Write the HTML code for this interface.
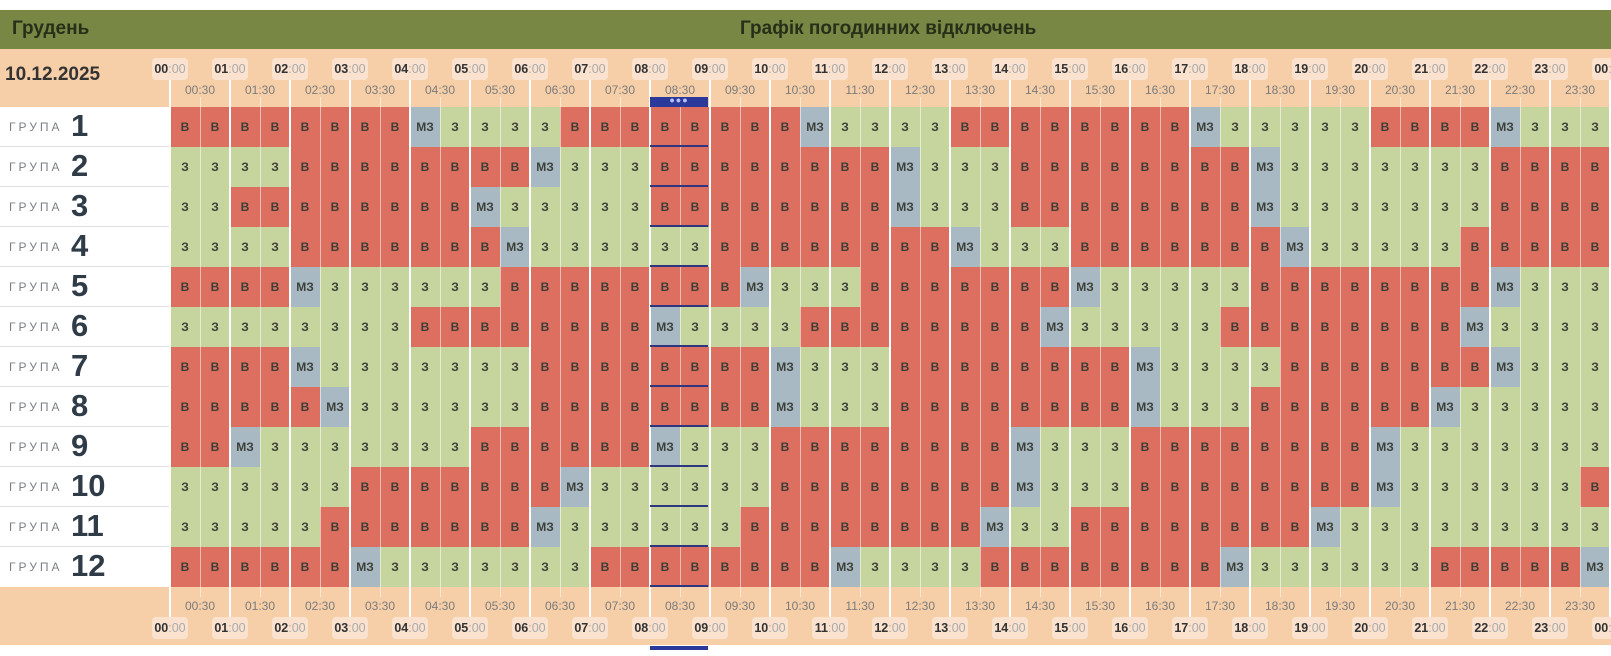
<!DOCTYPE html>
<html><head><meta charset="utf-8"><style>
*{margin:0;padding:0;box-sizing:border-box}
body{width:1611px;height:656px;background:#fff;position:relative;overflow:hidden;font-family:"Liberation Sans","DejaVu Sans",sans-serif}
.g{position:absolute;left:0;top:10px;width:1611px;height:39px;background:#788743}
.g span{position:absolute;top:8px;font-size:19px;font-weight:bold;color:#263019}
.ph{position:absolute;left:0;top:49px;width:1611px;height:58px;background:#f6cfa9}
.pf{position:absolute;left:0;top:587px;width:1611px;height:58px;background:#f6cfa9}
.date{position:absolute;left:5px;top:64px;font-size:19px;font-weight:bold;color:#333}
.row{position:absolute;left:170px;height:40px;display:flex}
.row a,.row u,.row s{display:block;width:30px;height:40px;line-height:40px;text-align:center;font-size:12px;font-weight:bold;color:#3b3f38;text-decoration:none}
.row a{background:#dc6f5f}.row u{background:#c6d59e}.row s{background:#a9b9c3}
.lab{position:absolute;left:0;width:170px;height:40px;border-bottom:1px solid #dde0e3;background:#fff}
.lab span{position:absolute;left:9px;top:13px;font-size:12px;letter-spacing:3px;color:#7a7f85}
.lab b{position:absolute;left:71px;top:1px;font-size:31px;color:#2f3c48}
.vl{position:absolute;left:169px;width:1442px;background:repeating-linear-gradient(90deg,#fff 0 2px,transparent 2px 60px)}
.hl{position:absolute;left:170px;width:1441px;background:repeating-linear-gradient(90deg,rgba(255,255,255,.55) 0 1px,transparent 1px 30px)}
.hr{position:absolute;width:36px;height:22px;margin-left:-18px;background:#fae2cf;border-radius:4px;font-size:12.5px;line-height:22px;text-align:center;color:#aaa;white-space:nowrap}
.hr b{color:#333}
.hf{position:absolute;width:50px;margin-left:-25px;text-align:center;font-size:12px;color:#7b7b7b}
.nv{position:absolute;left:650px;width:58px;height:2px;background:#2e3680}
</style></head><body>
<div class="g"><span style="left:12px">Грудень</span><span style="left:740px">Графік погодинних відключень</span></div>
<div class="ph"></div><div class="pf"></div>
<div class="date">10.12.2025</div>

<div class="lab" style="top:107px"><span>ГРУПА</span><b>1</b></div>
<div class="lab" style="top:147px"><span>ГРУПА</span><b>2</b></div>
<div class="lab" style="top:187px"><span>ГРУПА</span><b>3</b></div>
<div class="lab" style="top:227px"><span>ГРУПА</span><b>4</b></div>
<div class="lab" style="top:267px"><span>ГРУПА</span><b>5</b></div>
<div class="lab" style="top:307px"><span>ГРУПА</span><b>6</b></div>
<div class="lab" style="top:347px"><span>ГРУПА</span><b>7</b></div>
<div class="lab" style="top:387px"><span>ГРУПА</span><b>8</b></div>
<div class="lab" style="top:427px"><span>ГРУПА</span><b>9</b></div>
<div class="lab" style="top:467px"><span>ГРУПА</span><b>10</b></div>
<div class="lab" style="top:507px"><span>ГРУПА</span><b>11</b></div>
<div class="lab" style="top:547px;border-bottom:none"><span>ГРУПА</span><b>12</b></div>

<div class="row" style="top:107px"><a>В</a><a>В</a><a>В</a><a>В</a><a>В</a><a>В</a><a>В</a><a>В</a><s>МЗ</s><u>З</u><u>З</u><u>З</u><u>З</u><a>В</a><a>В</a><a>В</a><a>В</a><a>В</a><a>В</a><a>В</a><a>В</a><s>МЗ</s><u>З</u><u>З</u><u>З</u><u>З</u><a>В</a><a>В</a><a>В</a><a>В</a><a>В</a><a>В</a><a>В</a><a>В</a><s>МЗ</s><u>З</u><u>З</u><u>З</u><u>З</u><u>З</u><a>В</a><a>В</a><a>В</a><a>В</a><s>МЗ</s><u>З</u><u>З</u><u>З</u></div>
<div class="row" style="top:147px"><u>З</u><u>З</u><u>З</u><u>З</u><a>В</a><a>В</a><a>В</a><a>В</a><a>В</a><a>В</a><a>В</a><a>В</a><s>МЗ</s><u>З</u><u>З</u><u>З</u><a>В</a><a>В</a><a>В</a><a>В</a><a>В</a><a>В</a><a>В</a><a>В</a><s>МЗ</s><u>З</u><u>З</u><u>З</u><a>В</a><a>В</a><a>В</a><a>В</a><a>В</a><a>В</a><a>В</a><a>В</a><s>МЗ</s><u>З</u><u>З</u><u>З</u><u>З</u><u>З</u><u>З</u><u>З</u><a>В</a><a>В</a><a>В</a><a>В</a></div>
<div class="row" style="top:187px"><u>З</u><u>З</u><a>В</a><a>В</a><a>В</a><a>В</a><a>В</a><a>В</a><a>В</a><a>В</a><s>МЗ</s><u>З</u><u>З</u><u>З</u><u>З</u><u>З</u><a>В</a><a>В</a><a>В</a><a>В</a><a>В</a><a>В</a><a>В</a><a>В</a><s>МЗ</s><u>З</u><u>З</u><u>З</u><a>В</a><a>В</a><a>В</a><a>В</a><a>В</a><a>В</a><a>В</a><a>В</a><s>МЗ</s><u>З</u><u>З</u><u>З</u><u>З</u><u>З</u><u>З</u><u>З</u><a>В</a><a>В</a><a>В</a><a>В</a></div>
<div class="row" style="top:227px"><u>З</u><u>З</u><u>З</u><u>З</u><a>В</a><a>В</a><a>В</a><a>В</a><a>В</a><a>В</a><a>В</a><s>МЗ</s><u>З</u><u>З</u><u>З</u><u>З</u><u>З</u><u>З</u><a>В</a><a>В</a><a>В</a><a>В</a><a>В</a><a>В</a><a>В</a><a>В</a><s>МЗ</s><u>З</u><u>З</u><u>З</u><a>В</a><a>В</a><a>В</a><a>В</a><a>В</a><a>В</a><a>В</a><s>МЗ</s><u>З</u><u>З</u><u>З</u><u>З</u><u>З</u><a>В</a><a>В</a><a>В</a><a>В</a><a>В</a></div>
<div class="row" style="top:267px"><a>В</a><a>В</a><a>В</a><a>В</a><s>МЗ</s><u>З</u><u>З</u><u>З</u><u>З</u><u>З</u><u>З</u><a>В</a><a>В</a><a>В</a><a>В</a><a>В</a><a>В</a><a>В</a><a>В</a><s>МЗ</s><u>З</u><u>З</u><u>З</u><a>В</a><a>В</a><a>В</a><a>В</a><a>В</a><a>В</a><a>В</a><s>МЗ</s><u>З</u><u>З</u><u>З</u><u>З</u><u>З</u><a>В</a><a>В</a><a>В</a><a>В</a><a>В</a><a>В</a><a>В</a><a>В</a><s>МЗ</s><u>З</u><u>З</u><u>З</u></div>
<div class="row" style="top:307px"><u>З</u><u>З</u><u>З</u><u>З</u><u>З</u><u>З</u><u>З</u><u>З</u><a>В</a><a>В</a><a>В</a><a>В</a><a>В</a><a>В</a><a>В</a><a>В</a><s>МЗ</s><u>З</u><u>З</u><u>З</u><u>З</u><a>В</a><a>В</a><a>В</a><a>В</a><a>В</a><a>В</a><a>В</a><a>В</a><s>МЗ</s><u>З</u><u>З</u><u>З</u><u>З</u><u>З</u><a>В</a><a>В</a><a>В</a><a>В</a><a>В</a><a>В</a><a>В</a><a>В</a><s>МЗ</s><u>З</u><u>З</u><u>З</u><u>З</u></div>
<div class="row" style="top:347px"><a>В</a><a>В</a><a>В</a><a>В</a><s>МЗ</s><u>З</u><u>З</u><u>З</u><u>З</u><u>З</u><u>З</u><u>З</u><a>В</a><a>В</a><a>В</a><a>В</a><a>В</a><a>В</a><a>В</a><a>В</a><s>МЗ</s><u>З</u><u>З</u><u>З</u><a>В</a><a>В</a><a>В</a><a>В</a><a>В</a><a>В</a><a>В</a><a>В</a><s>МЗ</s><u>З</u><u>З</u><u>З</u><u>З</u><a>В</a><a>В</a><a>В</a><a>В</a><a>В</a><a>В</a><a>В</a><s>МЗ</s><u>З</u><u>З</u><u>З</u></div>
<div class="row" style="top:387px"><a>В</a><a>В</a><a>В</a><a>В</a><a>В</a><s>МЗ</s><u>З</u><u>З</u><u>З</u><u>З</u><u>З</u><u>З</u><a>В</a><a>В</a><a>В</a><a>В</a><a>В</a><a>В</a><a>В</a><a>В</a><s>МЗ</s><u>З</u><u>З</u><u>З</u><a>В</a><a>В</a><a>В</a><a>В</a><a>В</a><a>В</a><a>В</a><a>В</a><s>МЗ</s><u>З</u><u>З</u><u>З</u><a>В</a><a>В</a><a>В</a><a>В</a><a>В</a><a>В</a><s>МЗ</s><u>З</u><u>З</u><u>З</u><u>З</u><u>З</u></div>
<div class="row" style="top:427px"><a>В</a><a>В</a><s>МЗ</s><u>З</u><u>З</u><u>З</u><u>З</u><u>З</u><u>З</u><u>З</u><a>В</a><a>В</a><a>В</a><a>В</a><a>В</a><a>В</a><s>МЗ</s><u>З</u><u>З</u><u>З</u><a>В</a><a>В</a><a>В</a><a>В</a><a>В</a><a>В</a><a>В</a><a>В</a><s>МЗ</s><u>З</u><u>З</u><u>З</u><a>В</a><a>В</a><a>В</a><a>В</a><a>В</a><a>В</a><a>В</a><a>В</a><s>МЗ</s><u>З</u><u>З</u><u>З</u><u>З</u><u>З</u><u>З</u><u>З</u></div>
<div class="row" style="top:467px"><u>З</u><u>З</u><u>З</u><u>З</u><u>З</u><u>З</u><a>В</a><a>В</a><a>В</a><a>В</a><a>В</a><a>В</a><a>В</a><s>МЗ</s><u>З</u><u>З</u><u>З</u><u>З</u><u>З</u><u>З</u><a>В</a><a>В</a><a>В</a><a>В</a><a>В</a><a>В</a><a>В</a><a>В</a><s>МЗ</s><u>З</u><u>З</u><u>З</u><a>В</a><a>В</a><a>В</a><a>В</a><a>В</a><a>В</a><a>В</a><a>В</a><s>МЗ</s><u>З</u><u>З</u><u>З</u><u>З</u><u>З</u><u>З</u><a>В</a></div>
<div class="row" style="top:507px"><u>З</u><u>З</u><u>З</u><u>З</u><u>З</u><a>В</a><a>В</a><a>В</a><a>В</a><a>В</a><a>В</a><a>В</a><s>МЗ</s><u>З</u><u>З</u><u>З</u><u>З</u><u>З</u><u>З</u><a>В</a><a>В</a><a>В</a><a>В</a><a>В</a><a>В</a><a>В</a><a>В</a><s>МЗ</s><u>З</u><u>З</u><a>В</a><a>В</a><a>В</a><a>В</a><a>В</a><a>В</a><a>В</a><a>В</a><s>МЗ</s><u>З</u><u>З</u><u>З</u><u>З</u><u>З</u><u>З</u><u>З</u><u>З</u><u>З</u></div>
<div class="row" style="top:547px"><a>В</a><a>В</a><a>В</a><a>В</a><a>В</a><a>В</a><s>МЗ</s><u>З</u><u>З</u><u>З</u><u>З</u><u>З</u><u>З</u><u>З</u><a>В</a><a>В</a><a>В</a><a>В</a><a>В</a><a>В</a><a>В</a><a>В</a><s>МЗ</s><u>З</u><u>З</u><u>З</u><u>З</u><a>В</a><a>В</a><a>В</a><a>В</a><a>В</a><a>В</a><a>В</a><a>В</a><s>МЗ</s><u>З</u><u>З</u><u>З</u><u>З</u><u>З</u><u>З</u><a>В</a><a>В</a><a>В</a><a>В</a><a>В</a><s>МЗ</s></div>

<div class="hl" style="top:97px;height:490px"></div>
<div class="hl" style="top:587px;height:10px"></div>
<div class="vl" style="top:80px;height:537px"></div>

<div class="nv" style="top:145px"></div><div class="nv" style="top:185px"></div><div class="nv" style="top:225px"></div><div class="nv" style="top:265px"></div><div class="nv" style="top:305px"></div><div class="nv" style="top:345px"></div><div class="nv" style="top:385px"></div><div class="nv" style="top:425px"></div><div class="nv" style="top:465px"></div><div class="nv" style="top:505px"></div><div class="nv" style="top:545px"></div><div class="nv" style="top:585px"></div>
<div style="position:absolute;left:650px;top:97px;width:58px;height:10px;background:#2b3a9a;color:#b8c0ff;font-size:9px;line-height:7px;text-align:center;letter-spacing:1px">●●●</div>
<div style="position:absolute;left:650px;top:646px;width:58px;height:4px;background:#2b3a9a"></div>

<div style="position:absolute;top:58px;left:0;width:1611px;height:22px">
<div class="hr" style="left:170px"><b>00</b>:00</div><div class="hr" style="left:230px"><b>01</b>:00</div><div class="hr" style="left:290px"><b>02</b>:00</div><div class="hr" style="left:350px"><b>03</b>:00</div><div class="hr" style="left:410px"><b>04</b>:00</div><div class="hr" style="left:470px"><b>05</b>:00</div><div class="hr" style="left:530px"><b>06</b>:00</div><div class="hr" style="left:590px"><b>07</b>:00</div><div class="hr" style="left:650px"><b>08</b>:00</div><div class="hr" style="left:710px"><b>09</b>:00</div><div class="hr" style="left:770px"><b>10</b>:00</div><div class="hr" style="left:830px"><b>11</b>:00</div><div class="hr" style="left:890px"><b>12</b>:00</div><div class="hr" style="left:950px"><b>13</b>:00</div><div class="hr" style="left:1010px"><b>14</b>:00</div><div class="hr" style="left:1070px"><b>15</b>:00</div><div class="hr" style="left:1130px"><b>16</b>:00</div><div class="hr" style="left:1190px"><b>17</b>:00</div><div class="hr" style="left:1250px"><b>18</b>:00</div><div class="hr" style="left:1310px"><b>19</b>:00</div><div class="hr" style="left:1370px"><b>20</b>:00</div><div class="hr" style="left:1430px"><b>21</b>:00</div><div class="hr" style="left:1490px"><b>22</b>:00</div><div class="hr" style="left:1550px"><b>23</b>:00</div><div class="hr" style="left:1610px"><b>00</b>:00</div>
</div>
<div style="position:absolute;top:617px;left:0;width:1611px;height:22px">
<div class="hr" style="left:170px"><b>00</b>:00</div><div class="hr" style="left:230px"><b>01</b>:00</div><div class="hr" style="left:290px"><b>02</b>:00</div><div class="hr" style="left:350px"><b>03</b>:00</div><div class="hr" style="left:410px"><b>04</b>:00</div><div class="hr" style="left:470px"><b>05</b>:00</div><div class="hr" style="left:530px"><b>06</b>:00</div><div class="hr" style="left:590px"><b>07</b>:00</div><div class="hr" style="left:650px"><b>08</b>:00</div><div class="hr" style="left:710px"><b>09</b>:00</div><div class="hr" style="left:770px"><b>10</b>:00</div><div class="hr" style="left:830px"><b>11</b>:00</div><div class="hr" style="left:890px"><b>12</b>:00</div><div class="hr" style="left:950px"><b>13</b>:00</div><div class="hr" style="left:1010px"><b>14</b>:00</div><div class="hr" style="left:1070px"><b>15</b>:00</div><div class="hr" style="left:1130px"><b>16</b>:00</div><div class="hr" style="left:1190px"><b>17</b>:00</div><div class="hr" style="left:1250px"><b>18</b>:00</div><div class="hr" style="left:1310px"><b>19</b>:00</div><div class="hr" style="left:1370px"><b>20</b>:00</div><div class="hr" style="left:1430px"><b>21</b>:00</div><div class="hr" style="left:1490px"><b>22</b>:00</div><div class="hr" style="left:1550px"><b>23</b>:00</div><div class="hr" style="left:1610px"><b>00</b>:00</div>
</div>
<div style="position:absolute;top:83px;left:0;width:1611px">
<div class="hf" style="left:200px">00:30</div><div class="hf" style="left:260px">01:30</div><div class="hf" style="left:320px">02:30</div><div class="hf" style="left:380px">03:30</div><div class="hf" style="left:440px">04:30</div><div class="hf" style="left:500px">05:30</div><div class="hf" style="left:560px">06:30</div><div class="hf" style="left:620px">07:30</div><div class="hf" style="left:680px">08:30</div><div class="hf" style="left:740px">09:30</div><div class="hf" style="left:800px">10:30</div><div class="hf" style="left:860px">11:30</div><div class="hf" style="left:920px">12:30</div><div class="hf" style="left:980px">13:30</div><div class="hf" style="left:1040px">14:30</div><div class="hf" style="left:1100px">15:30</div><div class="hf" style="left:1160px">16:30</div><div class="hf" style="left:1220px">17:30</div><div class="hf" style="left:1280px">18:30</div><div class="hf" style="left:1340px">19:30</div><div class="hf" style="left:1400px">20:30</div><div class="hf" style="left:1460px">21:30</div><div class="hf" style="left:1520px">22:30</div><div class="hf" style="left:1580px">23:30</div>
</div>
<div style="position:absolute;top:599px;left:0;width:1611px">
<div class="hf" style="left:200px">00:30</div><div class="hf" style="left:260px">01:30</div><div class="hf" style="left:320px">02:30</div><div class="hf" style="left:380px">03:30</div><div class="hf" style="left:440px">04:30</div><div class="hf" style="left:500px">05:30</div><div class="hf" style="left:560px">06:30</div><div class="hf" style="left:620px">07:30</div><div class="hf" style="left:680px">08:30</div><div class="hf" style="left:740px">09:30</div><div class="hf" style="left:800px">10:30</div><div class="hf" style="left:860px">11:30</div><div class="hf" style="left:920px">12:30</div><div class="hf" style="left:980px">13:30</div><div class="hf" style="left:1040px">14:30</div><div class="hf" style="left:1100px">15:30</div><div class="hf" style="left:1160px">16:30</div><div class="hf" style="left:1220px">17:30</div><div class="hf" style="left:1280px">18:30</div><div class="hf" style="left:1340px">19:30</div><div class="hf" style="left:1400px">20:30</div><div class="hf" style="left:1460px">21:30</div><div class="hf" style="left:1520px">22:30</div><div class="hf" style="left:1580px">23:30</div>
</div>
</body></html>
